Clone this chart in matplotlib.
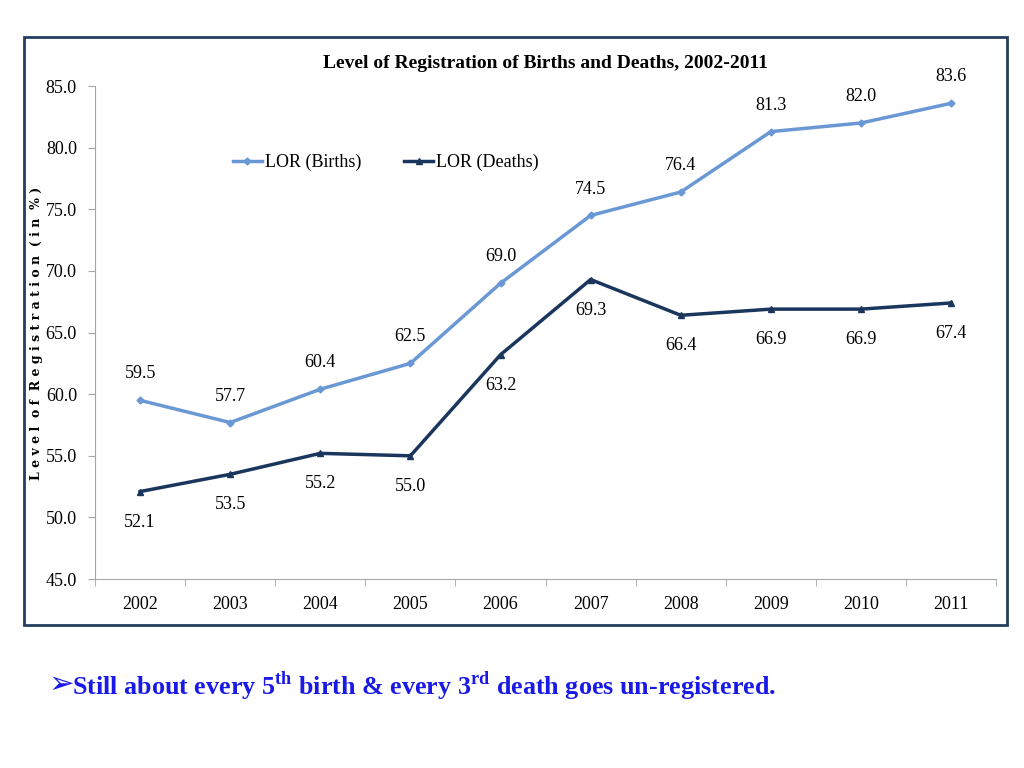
import matplotlib
matplotlib.use("Agg")
import matplotlib.pyplot as plt
from matplotlib.patches import Rectangle

years = ["2002", "2003", "2004", "2005", "2006", "2007", "2008", "2009", "2010", "2011"]
births = [59.5, 57.7, 60.4, 62.5, 69.0, 74.5, 76.4, 81.3, 82.0, 83.6]
deaths = [52.1, 53.5, 55.2, 55.0, 63.2, 69.3, 66.4, 66.9, 66.9, 67.4]
yticks = [45, 50, 55, 60, 65, 70, 75, 80, 85]

c_birth = "#6A98D4"
c_death = "#1B365D"
serif = "Liberation Serif"

plt.rcParams["mathtext.fontset"] = "custom"
plt.rcParams["mathtext.bf"] = "Liberation Serif:bold"
plt.rcParams["mathtext.rm"] = "Liberation Serif"

fig = plt.figure(figsize=(10.24, 7.68), dpi=100)
fig.patch.set_facecolor("white")

# frame round the chart
fig.patches.append(Rectangle((0.0234, 0.186), 0.96, 0.766, transform=fig.transFigure,
                             fill=False, edgecolor="#243F60", linewidth=2))

ax = fig.add_axes([0.0928, 0.246, 0.88, 0.642])
x = list(range(len(years)))
ax.plot(x, births, color=c_birth, lw=2.5, marker="D", ms=3.5, label="LOR (Births)")
ax.plot(x, deaths, color=c_death, lw=2.5, marker="^", ms=4.5, label="LOR (Deaths)")

for i in x:
    ax.annotate("%.1f" % births[i], (i, births[i]), xytext=(0, 19), textcoords="offset points",
                ha="center", va="center", fontsize=13, family=serif)
    ax.annotate("%.1f" % deaths[i], (i, deaths[i]), xytext=(0, -22), textcoords="offset points",
                ha="center", va="center", fontsize=13, family=serif)

ax.set_xlim(-0.5, len(years) - 0.5)
ax.set_ylim(45, 85)
ax.set_yticks(yticks)
ax.set_yticklabels(["%.1f" % v for v in yticks], fontsize=13, family=serif)
ax.set_xticks(x)
ax.set_xticklabels(years, fontsize=13, family=serif)
ax.set_xticks([i + 0.5 for i in range(-1, len(years))], minor=True)
ax.tick_params(axis="x", which="major", length=0, pad=12)
ax.tick_params(axis="x", which="minor", length=5, color="#A6A6A6", direction="out")
ax.tick_params(axis="y", length=5, color="#A6A6A6", pad=8)
for s in ["top", "right"]:
    ax.spines[s].set_visible(False)
ax.spines["left"].set_color("#A6A6A6")
ax.spines["bottom"].set_color("#A6A6A6")

ax.set_title("Level of Registration of Births and Deaths, 2002-2011", fontsize=14,
             fontweight="bold", family=serif, pad=13)
ax.legend(loc="upper left", bbox_to_anchor=(0.135, 0.895), ncol=2, frameon=False,
          prop={"family": serif, "size": 13}, columnspacing=2.4, handlelength=1.6,
          handletextpad=0.15)

fig.text(0.036, 0.566, "L e v e l  o f  R e g i s t r a t i o n  ( i n  % )", rotation=90,
         ha="center", va="center", fontsize=9, fontweight="bold", family="DejaVu Serif")

fig.text(0.047, 0.109, "\u27a2", fontsize=22, color="#1A1AE6", family="DejaVu Sans",
         ha="left", va="center")
fig.text(0.0705, 0.108,
         r"Still about every 5$^{\mathbf{th}}$ birth & every 3$^{\mathbf{rd}}$ death goes un-registered.",
         fontsize=18.8, color="#1A1AE6", fontweight="bold", family=serif, ha="left", va="center")

fig.savefig("out.png", dpi=100)
